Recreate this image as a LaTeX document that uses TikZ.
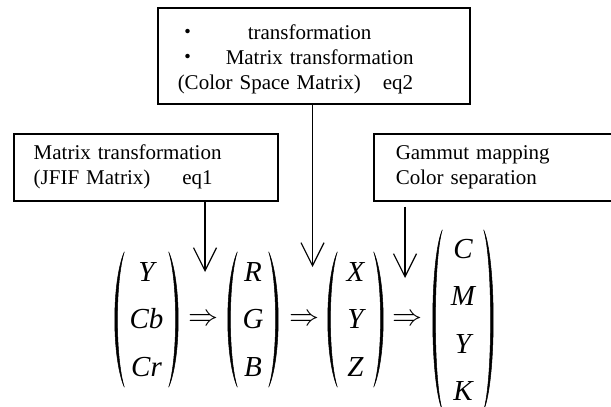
\documentclass[tikz,border=0pt]{standalone}
\usepackage{graphicx}
\usepackage{fontspec}
\setmainfont{Liberation Serif}
\newfontfamily\cjk{Noto Sans CJK JP}
\usetikzlibrary{arrows.meta}

\begin{document}
\begin{tikzpicture}[
    x=1pt, y=-1pt,
    every node/.style={inner sep=0pt},
    box/.style={
        rectangle,
        draw,
        line width=1.5pt,
        anchor=north west,
        align=left,
        inner xsep=20pt,
        inner ysep=0pt,
        font=\fontsize{21}{25}\selectfont
    },
    vec/.style={
        rectangle,
        align=center,
        minimum height=135pt,
        font=\fontsize{29}{47.5}\selectfont\itshape
    },
    arrow/.style={line width=1.2pt, -{Straight Barb[length=23pt,width=23pt]}},
    paren/.style={line width=0.5pt}
]
\useasboundingbox (0,0) rectangle (611,407);

% Boxes
\node[box, text width=272pt, minimum height=96pt] (space) at (157,7)
    {\rule{0pt}{22pt}{\cjk ・}\hspace{49pt}transformation\\
     {\cjk ・}\hspace{27pt}Matrix transformation\\
     (Color Space Matrix)\hspace{22pt}eq2};
\node[box, text width=224pt, minimum height=67pt] (jfif) at (13,133)
    {Matrix transformation\\(JFIF Matrix)\hspace{32pt}eq1};
\node[box, inner xsep=22pt, text width=196pt, minimum height=67pt] (gamut) at (373,133)
    {Gammut mapping\\Color separation};

% Vectors
\node[vec, minimum width=63pt] (ycc) at (146.5,319.5) {Y\\Cb\\Cr};
\node[vec, minimum width=50pt] (rgb) at (253,319.5) {R\\G\\B};
\node[vec, minimum width=55pt] (xyz) at (355.5,319.5) {X\\Y\\Z};
\node[vec, minimum width=60pt, minimum height=180pt] (cmyk) at (463,320) {C\\M\\Y\\K};

% Implication signs
\node (to1) at (203,320) {\scalebox{3}{$\Rightarrow$}};
\node (to2) at (304,320) {\scalebox{3}{$\Rightarrow$}};
\node (to3) at (407.5,320) {\scalebox{3}{$\Rightarrow$}};

% Parentheses
\foreach \v in {ycc,rgb,xyz,cmyk} {
  \filldraw[paren] ([xshift=9.5pt]\v.north west)
      .. controls +(-12.7,30) and +(-12.7,-30) .. ([xshift=9.5pt]\v.south west)
      .. controls +(-9.2,-30) and +(-9.2,30) .. ([xshift=9.5pt]\v.north west) -- cycle;
  \filldraw[paren] ([xshift=-9.5pt]\v.north east)
      .. controls +(12.7,30) and +(12.7,-30) .. ([xshift=-9.5pt]\v.south east)
      .. controls +(9.2,-30) and +(9.2,30) .. ([xshift=-9.5pt]\v.north east) -- cycle;
}

% Arrows
\coordinate (tip1) at (205,272);
\coordinate (tip2) at (312.5,267);
\coordinate (tip3) at (405,278);
\draw[arrow] (jfif.south -| tip1) -- (tip1);
\draw[arrow] (space.south -| tip2) -- (tip2);
\draw[arrow, shorten <=5pt] (gamut.south -| tip3) -- (tip3);

\end{tikzpicture}
\end{document}
